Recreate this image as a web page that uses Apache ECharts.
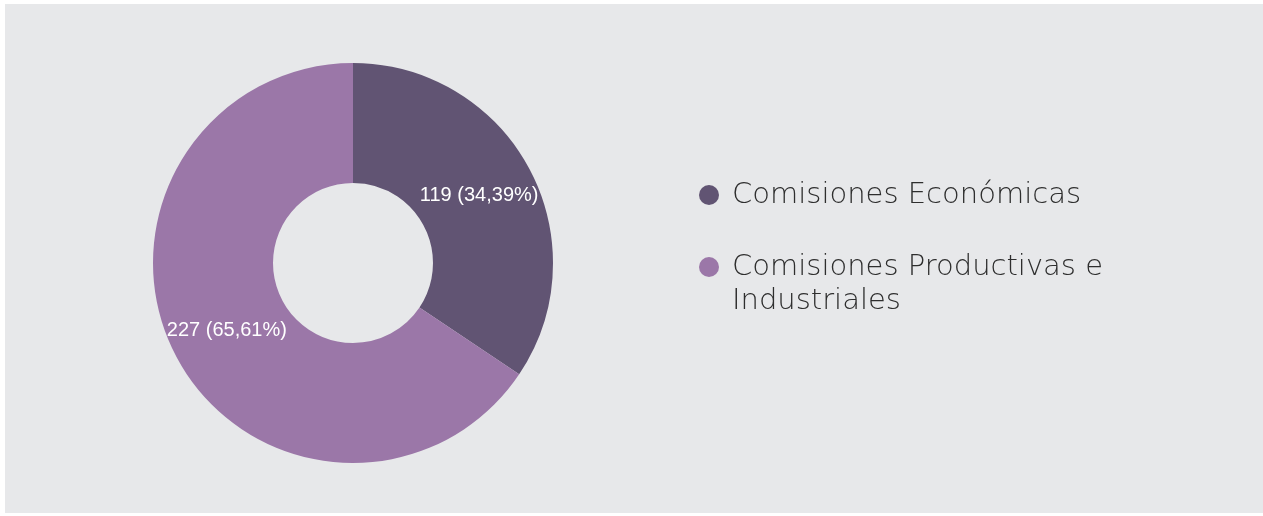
<!DOCTYPE html>
<html>
<head>
<meta charset="utf-8">
<script src="https://cdn.jsdelivr.net/npm/echarts@6/dist/echarts.min.js"></script>
<style>
    html, body { margin: 0; padding: 0; background: #ffffff; }
    #main { position: absolute; left: 5px; top: 4px; width: 1258px; height: 509px; }
</style>
</head>
<body>
<div id="main"></div>
<script>
// datos del gráfico
var categories = ['Comisiones Económicas', 'Comisiones Productivas e Industriales'];
var values = [119, 227];
var colors = ['#615473', '#9b77a8'];

var myChart = echarts.init(document.getElementById('main'));

var option = {
    backgroundColor: '#e7e8ea',
    animation: false,
    color: colors,
    legend: {
        orient: 'vertical',
        left: 689,
        top: 169,
        itemWidth: 20,
        itemHeight: 20,
        itemGap: 4,
        icon: 'circle',
        selectedMode: false,
        // línea vacía delante para que la primera línea quede alineada con el icono
        formatter: function (name) {
            return name === categories[1] ? '\nComisiones Productivas e\nIndustriales' : name;
        },
        textStyle: {
            fontFamily: 'DejaVu Sans',
            fontWeight: 300,
            fontSize: 29,
            lineHeight: 34,
            color: '#2e2e2e',
            padding: [0, 0, 0, 8]
        },
        data: categories
    },
    series: [{
        type: 'pie',
        center: [348, 259],
        radius: [80, 200],
        startAngle: 90,
        clockwise: true,
        silent: true,
        label: {
            show: true,
            position: 'inside',
            color: '#ffffff',
            fontFamily: 'Liberation Sans',
            fontSize: 20,
            formatter: function (p) {
                return p.value + ' (' + p.percent.toFixed(2).replace('.', ',') + '%)';
            }
        },
        labelLine: { show: false },
        itemStyle: { borderWidth: 0 },
        data: categories.map(function (c, i) {
            return { name: c, value: values[i] };
        })
    }]
};

myChart.setOption(option);
window.addEventListener('resize', function () {
    myChart.resize();
});
</script>
</body>
</html>
